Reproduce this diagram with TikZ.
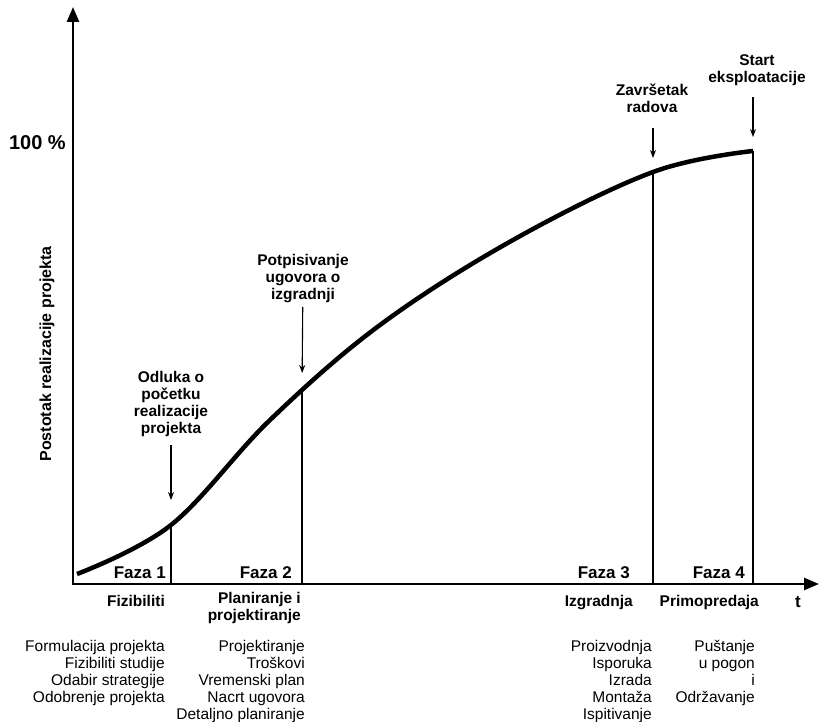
\documentclass[tikz,border=0pt]{standalone}
\usepackage{fontspec}
\setmainfont{Liberation Sans}
\usetikzlibrary{arrows.meta,positioning,calc}
\tikzset{>={Stealth[length=8pt,width=6pt]}}

\begin{document}
\begin{tikzpicture}[x=1pt,y=-1pt,
    axis/.style={line width=2.6pt,line join=miter,{Triangle[length=15pt,width=12pt]}-{Triangle[length=15pt,width=12pt]}},
    curve/.style={line width=4.5pt},
    phase/.style={line width=1.1pt},
    pointer/.style={line width=1.1pt,->},
    event/.style={font=\bfseries\fontsize{15.5}{17}\selectfont,align=center,inner sep=0pt,anchor=south},
    faza/.style={font=\bfseries\fontsize{17}{20}\selectfont,inner sep=0pt,anchor=base east},
    stage/.style={font=\bfseries\fontsize{15.5}{17}\selectfont,align=right,inner sep=0pt,anchor=north east},
    tasks/.style={font=\fontsize{15.5}{17}\selectfont,align=right,inner sep=0pt,anchor=north east}]
    \useasboundingbox (0,0) rectangle (820,722);
    % axes
    \coordinate (o) at (73,584);
    \coordinate (xend) at (819,584);
    \coordinate (yend) at (73,7);
    \draw[axis] (yend) -- (o) -- (xend);
    \node[font=\bfseries\fontsize{20}{24}\selectfont,anchor=east,inner sep=0pt] (full) at (66,143) {100 \%};
    \node[rotate=90,font=\bfseries\fontsize{16}{19}\selectfont,inner sep=0pt] (ylab) at (47,354) {Postotak realizacije projekta};
    \node[font=\bfseries\fontsize{17}{20}\selectfont,anchor=north,inner sep=0pt] (tlab) at (798,596) {t};
    % s-curve
    \draw[curve] plot[smooth,tension=0.6] coordinates {(77,574) (171,525) (270,420)
        (380,325) (513,240) (653,172) (753,151)};
    \coordinate (c1) at (171,525);
    \coordinate (c2) at (302,390);
    \coordinate (c3) at (653,172);
    \coordinate (c4) at (753,151);
    \foreach \c in {c1,c2,c3,c4}
        \draw[phase] (\c) -- (\c |- o);
    % events
    \node[event] (odluka) at (171,437) {Odluka o\\početku\\realizacije\\projekta};
    \node[event] (potpis) at (303,303) {Potpisivanje\\ugovora o\\izgradnji};
    \node[event] (zavrsetak) at (652,113) {Završetak\\radova};
    \node[event] (start) at (757,86) {Start\\eksploatacije};
    \draw[pointer,shorten <=8pt,shorten >=25pt] (odluka) -- (c1);
    \draw[pointer,shorten <=4pt,shorten >=17pt] (potpis) -- (c2);
    \draw[pointer,shorten <=15pt,shorten >=14pt] (zavrsetak.south -| c3) -- (c3);
    \draw[pointer,shorten <=11pt,shorten >=14pt] (start.south -| c4) -- (c4);
    % phases
    \node[faza] (f1) at (166,578) {Faza 1};
    \node[faza] (f2) at (292,578) {Faza 2};
    \node[faza] (f3) at (630,578) {Faza 3};
    \node[faza] (f4) at (745,578) {Faza 4};
    \node[stage] (fiz) at (165,595) {Fizibiliti};
    \node[stage] (plan) at (301,592) {Planiranje i\\projektiranje};
    \node[stage] (izg) at (633,595) {Izgradnja};
    \node[stage] (prim) at (759,595) {Primopredaja};
    \node[tasks] (fizlist) at (165,640) {Formulacija projekta\\Fizibiliti studije\\Odabir strategije\\Odobrenje projekta};
    \node[tasks] (planlist) at (305,640) {Projektiranje\\Troškovi\\Vremenski plan\\Nacrt ugovora\\Detaljno planiranje};
    \node[tasks] (izglist) at (652,640) {Proizvodnja\\Isporuka\\Izrada\\Montaža\\Ispitivanje};
    \node[tasks] (primlist) at (755,640) {Puštanje\\u pogon\\i\\Održavanje};
\end{tikzpicture}
\end{document}
